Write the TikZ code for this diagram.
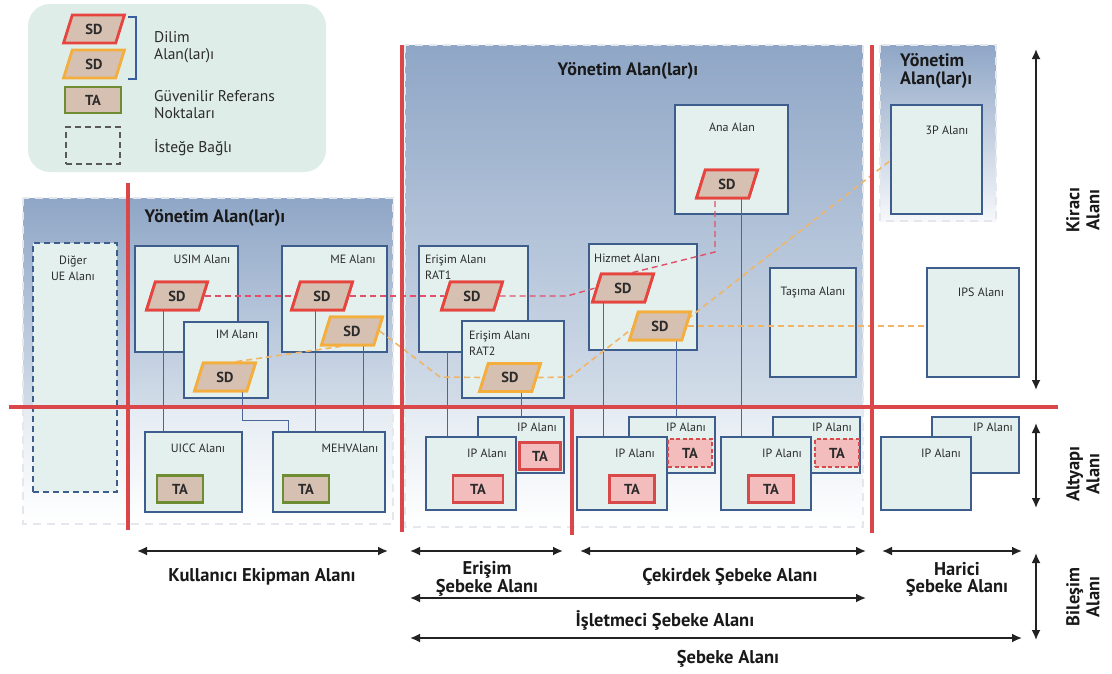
\documentclass[tikz,border=0pt]{standalone}
\usepackage{fontspec}
\setmainfont{PT Sans}
\usetikzlibrary{arrows.meta,shapes.geometric}

\definecolor{sepred}{HTML}{D9474B}
\definecolor{boxfill}{HTML}{E3F0ED}
\definecolor{boxline}{HTML}{3D5E8C}
\definecolor{sdfill}{HTML}{D6C0B1}
\definecolor{sdred}{HTML}{E5443F}
\definecolor{sdorange}{HTML}{F4AE3E}
\definecolor{tagreen}{HTML}{6E8C32}
\definecolor{tapink}{HTML}{F3BDBD}
\definecolor{tared}{HTML}{D84A4A}
\definecolor{legendfill}{HTML}{DFEDE9}
\definecolor{regtop}{HTML}{8FA6C6}
\definecolor{regmid}{HTML}{D3DDE9}
\definecolor{reglow}{HTML}{E4EBF2}
\definecolor{linkblue}{HTML}{4B679A}
\definecolor{reddash}{HTML}{E0506A}
\definecolor{orangedash}{HTML}{F0B566}
\definecolor{txt}{HTML}{2B2B2B}
\definecolor{dimline}{HTML}{222222}
\definecolor{bracket}{HTML}{3A5FA0}
\definecolor{regborder}{HTML}{E4E8ED}

\tikzset{
  box/.style={rectangle, draw=boxline, fill=boxfill, line width=1.3pt, inner sep=0pt},
  optbox/.style={box, dashed, dash pattern=on 6pt off 4pt},
  sdbox/.style={trapezium, trapezium left angle=72, trapezium right angle=108,
    trapezium stretches=true, minimum width=61pt, minimum height=28pt,
    fill=sdfill, line width=2.8pt, inner sep=0pt, text=txt,
    font=\bfseries\fontsize{14.5}{15}\selectfont},
  sdr/.style={sdbox, draw=sdred},
  sdo/.style={sdbox, draw=sdorange},
  tabox/.style={rectangle, minimum width=46pt, minimum height=27pt, line width=2.5pt,
    inner sep=0pt, text=txt, font=\bfseries\fontsize{14.5}{15}\selectfont},
  tag/.style={tabox, draw=tagreen, fill=sdfill},
  tar/.style={tabox, draw=tared, fill=tapink},
  tad/.style={tar, dash pattern=on 4pt off 2.5pt},
  lbl/.style={inner sep=0pt, text=txt, font=\fontsize{12}{16}\selectfont},
  title/.style={inner sep=0pt, text=black!90, font=\bfseries\fontsize{18}{18}\selectfont},
  dimlbl/.style={inner sep=0pt, text=black!90, align=center, font=\bfseries\fontsize{18.5}{17}\selectfont},
  sidelbl/.style={inner sep=0pt, text=black!90, align=center, font=\bfseries\fontsize{18.5}{20}\selectfont},
  legtxt/.style={inner sep=0pt, text=txt, align=left, anchor=west, font=\fontsize{15.5}{17}\selectfont},
  sep/.style={draw=sepred, line width=4pt},
  regdash/.style={draw=regborder, line width=1.4pt, dash pattern=on 8pt off 6pt},
  link/.style={draw=linkblue, line width=0.8pt},
  rdash/.style={draw=reddash, line width=1.4pt, dash pattern=on 6pt off 4pt},
  odash/.style={draw=orangedash, line width=1.6pt, dash pattern=on 6pt off 4pt},
  dim/.style={draw=dimline, line width=1.8pt, {Latex[length=10pt,width=9pt]}-{Latex[length=10pt,width=9pt]}},
}

\begin{document}
\begin{tikzpicture}[x=1pt,y=-1pt]
\useasboundingbox (0,0) rectangle (1112,673);

% ---------- legend ----------
\fill[legendfill, rounded corners=22pt] (28,4) rectangle (326,172);
\node[sdr] (legSDr) at (94,29) {SD};
\node[sdo] (legSDo) at (94,64) {SD};
\node[tag, minimum width=56pt, minimum height=26pt] (legTA) at (93,100) {TA};
\node[rectangle, draw=black!65, line width=2pt, dash pattern=on 6pt off 4pt,
      minimum width=54pt, minimum height=37pt] (legOpt) at (93,145.5) {};
\draw[bracket, line width=1.2pt] (128,17) -- (136,17) -- (136,79) -- (128,79);
\node[legtxt] (legT1) at (154,47.5) {Dilim\\Alan(lar)ı};
\node[legtxt] (legT2) at (154,104.5) {Güvenilir Referans\\Noktaları};
\node[legtxt] (legT3) at (154,148) {İsteğe Bağlı};

% ---------- shaded management regions ----------
\shade[top color=regtop, bottom color=regmid] (23,198) rectangle (393,407);
\shade[top color=reglow, bottom color=white] (23,407) rectangle (393,524);
\draw[regdash] (23,198) rectangle (393,524);

\shade[top color=regtop, bottom color=regmid] (405,45) rectangle (863,407);
\shade[top color=reglow, bottom color=white] (405,407) rectangle (863,527);
\draw[regdash] (405,45) rectangle (863,527);

\shade[top color=regtop, bottom color=white!92!regtop] (880,45) rectangle (996,221);
\draw[regdash] (880,45) rectangle (996,221);

\node[title] (tLeft) at (215,218) {Yönetim Alan(lar)ı};
\node[title] (tMid) at (628,71) {Yönetim Alan(lar)ı};
\node[title, align=left, anchor=west] (tRight) at (900,71) {Yönetim\\Alan(lar)ı};

% ---------- user equipment domains ----------
\node[optbox, minimum width=84pt, minimum height=249pt] (diger) at (75,367.5) {};
\node[lbl, align=center] (digerL) at (73,268) {Diğer\\UE Alanı};
\node[box, minimum width=103pt, minimum height=106pt] (usim) at (186.5,299) {};
\node[box, minimum width=105pt, minimum height=106pt] (me) at (334.5,299) {};
\node[box, minimum width=84pt, minimum height=76pt] (im) at (226,360) {};
\node[box, minimum width=97pt, minimum height=80pt] (uicc) at (193.5,472) {};
\node[box, minimum width=112pt, minimum height=80pt] (mehv) at (329,472) {};
\node[lbl] (usimL) at (202,259) {USIM Alanı};
\node[lbl] (meL) at (353,259) {ME Alanı};
\node[lbl] (imL) at (237,334) {IM Alanı};
\node[lbl] (uiccL) at (198,448) {UICC Alanı};
\node[lbl] (mehvL) at (350,448) {MEHVAlanı};

% ---------- network domains ----------
\node[box, minimum width=113pt, minimum height=109pt] (ana) at (731.5,159.5) {};
\node[box, minimum width=109pt, minimum height=106pt] (rat1) at (473.5,299) {};
\node[box, minimum width=102pt, minimum height=77pt] (rat2) at (513,359.5) {};
\node[box, minimum width=108pt, minimum height=106pt] (hiz) at (643,297) {};
\node[box, minimum width=86pt, minimum height=109pt] (tas) at (813,322.5) {};
\node[box, minimum width=91pt, minimum height=109pt] (p3) at (936.5,159.5) {};
\node[box, minimum width=92pt, minimum height=109pt] (ips) at (973,322.5) {};
\node[lbl] (anaL) at (732,127) {Ana Alan};
\node[lbl, align=left, anchor=west] (rat1L) at (425,267) {Erişim Alanı\\RAT1};
\node[lbl, align=left, anchor=west] (rat2L) at (469,343) {Erişim Alanı\\RAT2};
\node[lbl, anchor=west] (hizL) at (594,258) {Hizmet Alanı};
\node[lbl] (tasL) at (813,292) {Taşıma Alanı};
\node[lbl] (p3L) at (947,130) {3P Alanı};
\node[lbl] (ipsL) at (981,292) {IPS Alanı};

% ---------- infrastructure (IP) domains ----------
\node[box, minimum width=86pt, minimum height=56pt] (ipB1) at (521,445) {};
\node[box, minimum width=90pt, minimum height=73pt] (ipF1) at (471,473.5) {};
\node[box, minimum width=86pt, minimum height=56pt] (ipB2) at (672,445) {};
\node[box, minimum width=90pt, minimum height=73pt] (ipF2) at (622,473.5) {};
\node[box, minimum width=87pt, minimum height=56pt] (ipB3) at (816.5,445) {};
\node[box, minimum width=90pt, minimum height=73pt] (ipF3) at (766,473.5) {};
\node[box, minimum width=87pt, minimum height=56pt] (ipB4) at (975.5,445) {};
\node[box, minimum width=90pt, minimum height=73pt] (ipF4) at (926,473.5) {};
\node[lbl] (ipB1L) at (537,427) {IP Alanı};
\node[lbl] (ipF1L) at (487,453) {IP Alanı};
\node[lbl] (ipB2L) at (686,427) {IP Alanı};
\node[lbl] (ipF2L) at (635,453) {IP Alanı};
\node[lbl] (ipB3L) at (832,427) {IP Alanı};
\node[lbl] (ipF3L) at (782,453) {IP Alanı};
\node[lbl] (ipB4L) at (993,427) {IP Alanı};
\node[lbl] (ipF4L) at (941,453) {IP Alanı};

% ---------- slice domains (placed first as anchors for links) ----------
\path node[sdr] (usimSD) at (177,296) {SD}
      node[sdr] (meSD) at (322,296) {SD}
      node[sdo] (meSD2) at (352,331) {SD}
      node[sdo] (imSD) at (225,377) {SD}
      node[sdr] (anaSD) at (727,184) {SD}
      node[sdr] (rat1SD) at (472,296) {SD}
      node[sdo] (rat2SD) at (510,377.5) {SD}
      node[sdr] (hizSD) at (623,288) {SD}
      node[sdo] (hizSD2) at (660,326) {SD};

% ---------- vertical links to infrastructure ----------
\coordinate (dUsim) at (163,305);
\coordinate (dIm) at (242,385);
\coordinate (dImTurn) at (242,420);
\coordinate (dMe) at (315,305);
\coordinate (dMe2) at (363,340);
\coordinate (dRat1) at (447,352);
\coordinate (dRat2) at (521,388);
\coordinate (dHiz) at (603,298);
\coordinate (dHiz2) at (676,336);
\coordinate (dAna) at (741,195);
\draw[link] (dUsim) -- (dUsim |- uicc.north);
\draw[link] (dIm) -- (dImTurn) -| ([xshift=-41pt]mehv.north);
\draw[link] (dMe) -- (dMe |- mehv.north);
\draw[link] (dMe2) -- (dMe2 |- mehv.north);
\draw[link] (dRat1) -- (dRat1 |- ipF1.north);
\draw[link] (dRat2) -- (dRat2 |- ipB1.north);
\draw[link] (dHiz) -- (dHiz |- ipF2.north);
\draw[link] (dHiz2) -- (dHiz2 |- ipB2.north);
\draw[link] (dAna) -- (dAna |- ipF3.north);

% ---------- slice paths ----------
\coordinate (rBend1) at (567,296);
\coordinate (rBend2) at (715,252);
\draw[rdash] (usimSD.east) -- (meSD.west);
\draw[rdash] (meSD.east) -- (rat1SD.west);
\draw[rdash] (rat1SD.east) -- (rBend1) -- (hizSD.west);
\draw[rdash] ([xshift=-6pt]hizSD.north east) -- (rBend2) -- (rBend2 |- anaSD.south);

\coordinate (oBend1) at (440,377);
\coordinate (oBend2) at (570,377);
\draw[odash] ([xshift=-4pt]imSD.north east) -- ([xshift=4pt]meSD2.south west);
\draw[odash] (meSD2.east) -- (oBend1) -- (rat2SD.west);
\draw[odash] (rat2SD.east) -- (oBend2) -- ([xshift=3pt]hizSD2.west);
\draw[odash] (hizSD2.east) -- (hizSD2.east -| ips.west);
\draw[odash] ([yshift=7pt]hizSD2.east) -- ([yshift=-1pt]p3.west);

% ---------- domain separators ----------
\draw[sep] (9,407) -- (1058,407);
\draw[sep] (128,183) -- (128,530);
\draw[sep] (402,45) -- (402,532);
\draw[sep] (572,407) -- (572,535);
\draw[sep] (872,45) -- (872,533);

% ---------- slice domains on top ----------
\node[sdr] at (usimSD) {SD};
\node[sdr] at (meSD) {SD};
\node[sdo] at (meSD2) {SD};
\node[sdo] at (imSD) {SD};
\node[sdr] at (anaSD) {SD};
\node[sdr] at (rat1SD) {SD};
\node[sdo] at (rat2SD) {SD};
\node[sdr] at (hizSD) {SD};
\node[sdo] at (hizSD2) {SD};

% ---------- trust anchors ----------
\node[tag] (uiccTA) at (180,489) {TA};
\node[tag] (mehvTA) at (306,489) {TA};
\node[tar, minimum width=50pt] (ipF1TA) at (478,489) {TA};
\node[tar, minimum width=41pt] (ipB1TA) at (540,456) {TA};
\node[tar, minimum width=45pt] (ipF2TA) at (632,489) {TA};
\node[tad, minimum width=44pt, minimum height=28pt] (ipB2TA) at (690,453) {TA};
\node[tar, minimum width=45pt] (ipF3TA) at (771,489) {TA};
\node[tad, minimum width=44pt, minimum height=28pt] (ipB3TA) at (837,453) {TA};

% ---------- scope dimensions ----------
\coordinate (ueL) at (137,551);   \coordinate (ueR) at (388,551);
\coordinate (anL) at (410,551);   \coordinate (anR) at (563,551);
\coordinate (cnL) at (580,551);   \coordinate (cnR) at (866,551);
\coordinate (exL) at (882,551);   \coordinate (exR) at (1022,551);
\coordinate (opL) at (410,598);   \coordinate (opR) at (866,598);
\coordinate (nwL) at (410,638);   \coordinate (nwR) at (1022,638);
\coordinate (tnT) at (1036,49);   \coordinate (tnB) at (1036,390);
\coordinate (inT) at (1036,423);  \coordinate (inB) at (1036,508);
\coordinate (coT) at (1036,553);  \coordinate (coB) at (1036,640);
\draw[dim] (ueL) -- (ueR);
\draw[dim] (anL) -- (anR);
\draw[dim] (cnL) -- (cnR);
\draw[dim] (exL) -- (exR);
\draw[dim] (opL) -- (opR);
\draw[dim] (nwL) -- (nwR);
\draw[dim] (tnT) -- (tnB);
\draw[dim] (inT) -- (inB);
\draw[dim] (coT) -- (coB);

\node[dimlbl] (ueLbl) at (262,577) {Kullanıcı Ekipman Alanı};
\node[dimlbl] (anLbl) at (487,579) {Erişim\\Şebeke Alanı};
\node[dimlbl] (cnLbl) at (730,577) {Çekirdek Şebeke Alanı};
\node[dimlbl] (exLbl) at (957,579) {Harici\\Şebeke Alanı};
\node[dimlbl] (opLbl) at (665,620) {İşletmeci Şebeke Alanı};
\node[dimlbl] (nwLbl) at (728,659) {Şebeke Alanı};
\node[sidelbl, rotate=90] (tnLbl) at (1083,210) {Kiracı\\Alanı};
\node[sidelbl, rotate=90] (inLbl) at (1083,474) {Altyapı\\Alanı};
\node[sidelbl, rotate=90] (coLbl) at (1083,597) {Bileşim\\Alanı};
\end{tikzpicture}
\end{document}
